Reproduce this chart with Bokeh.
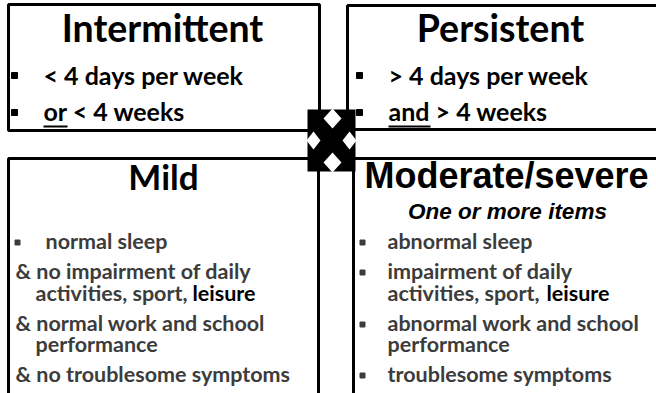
from bokeh.plotting import figure
from bokeh.models import Range1d
from bokeh.core.properties import value
from bokeh.embed import file_html
from bokeh.resources import INLINE

# ---- content ----
titles = ["Intermittent", "Persistent", "Mild", "Moderate/severe"]
subtitle = "One or more items"
intermittent_items = ["< 4 days per week", "or < 4 weeks"]
persistent_items = ["> 4 days per week", "and > 4 weeks"]
mild_lines = ["normal sleep", "& no impairment of daily", "activities, sport, ",
              "& normal work and school", "performance", "& no troublesome symptoms"]
severe_lines = ["abnormal sleep", " impairment of daily", "activities, sport, ",
                "abnormal work and school", "performance", "troublesome symptoms"]
emph_word = "leisure"

# ---- layout (screen pixel coordinates) ----
W, H = 656, 393
p = figure(width=W, height=H, x_range=Range1d(0, W), y_range=Range1d(H, 0),
           output_backend="svg", toolbar_location=None, min_border=0)
p.axis.visible = False
p.grid.visible = False
p.outline_line_color = None
p.background_fill_color = "white"

K = 0.42  # baseline compensation (fraction of font size)


def base(y, size):
    return [v - K * size for v in y]


LW = 3
# box outlines
p.quad(left=[8], right=[319], top=[4], bottom=[130], fill_color=None, line_color="black", line_width=LW)
p.multi_line(xs=[[347, 347, 670], [347, 670], [8, 8, 318, 318], [353, 353, 670]],
             ys=[[129, 5, 5], [129, 129], [410, 158, 158, 410], [410, 158, 158]],
             line_color="black", line_width=LW)

# central X marker: black block with four white diamond notches
cx, cy, hw, hh = 331, 140, 24, 31


def diamond(x, y, rx, ry):
    return [x - rx, x, x + rx, x], [y, y - ry, y, y + ry]


d = [diamond(cx + 1, cy - hh + 9, 9, 10), diamond(cx + 1, cy + hh - 9, 9, 10),
     diamond(cx - hw + 6, cy, 7, 9), diamond(cx + hw - 6, cy, 7, 9)]
p.quad(left=[cx - hw], right=[cx + hw], top=[cy - hh], bottom=[cy + hh], fill_color="black", line_color=None)
p.patches(xs=[t[0] for t in d], ys=[t[1] for t in d], fill_color="white", line_color=None)

CAL = value("Lato")
ARI = value("Liberation Sans")

# titles
p.text(x=[162, 500], y=base([43, 43], 37.5), text=titles[:2], text_font=CAL, text_font_style="bold",
       text_font_size="37.5px", text_align="center", text_baseline="alphabetic", text_color="black")
p.text(x=[163], y=base([190], 35), text=[titles[2]], text_font=CAL, text_font_style="bold",
       text_font_size="35px", text_align="center", text_baseline="alphabetic", text_color="black")
p.text(x=[506], y=base([190], 36), text=[titles[3]], text_font=ARI, text_font_style="bold",
       text_font_size="36px", text_align="center", text_baseline="alphabetic", text_color="black")
p.text(x=[507], y=base([220], 22.5), text=[subtitle], text_font=ARI, text_font_style="bold italic",
       text_font_size="22.5px", text_align="center", text_baseline="alphabetic", text_color="black")

# top boxes items
p.text(x=[43, 43, 388, 388], y=base([85, 121, 85, 121], 25), text=intermittent_items + persistent_items,
       text_font=CAL, text_font_style="bold", text_font_size="25px", text_baseline="alphabetic",
       text_color="black")
p.scatter(x=[14, 14, 359, 359], y=[75, 112, 75, 112], marker="square", size=6, color="black")
p.segment(x0=[43, 388], x1=[67, 430], y0=[126, 126], y1=[126, 126], line_color="black", line_width=2)

# bottom boxes items
body = "#3c3c3c"
FS = 21.5
ys = [250, 280, 302, 332, 353, 383]
p.text(x=[45, 15, 35, 15, 35, 15], y=base(ys, FS), text=mild_lines, text_font=CAL, text_font_style="bold",
       text_font_size=f"{FS}px", text_baseline="alphabetic", text_color=body)
p.text(x=[387, 387, 387, 387, 387, 387], y=base(ys, FS), text=severe_lines, text_font=CAL,
       text_font_style="bold", text_font_size=f"{FS}px", text_baseline="alphabetic", text_color=body)
p.text(x=[192, 546], y=base([302, 302], FS), text=[emph_word, emph_word], text_font=CAL,
       text_font_style="bold", text_font_size=f"{FS}px", text_baseline="alphabetic", text_color="black")
p.scatter(x=[17, 362, 362, 362, 362], y=[242, 242, 272, 324, 375], marker="square", size=5, color=body)

open("out.html", "w").write(file_html(p, INLINE))
